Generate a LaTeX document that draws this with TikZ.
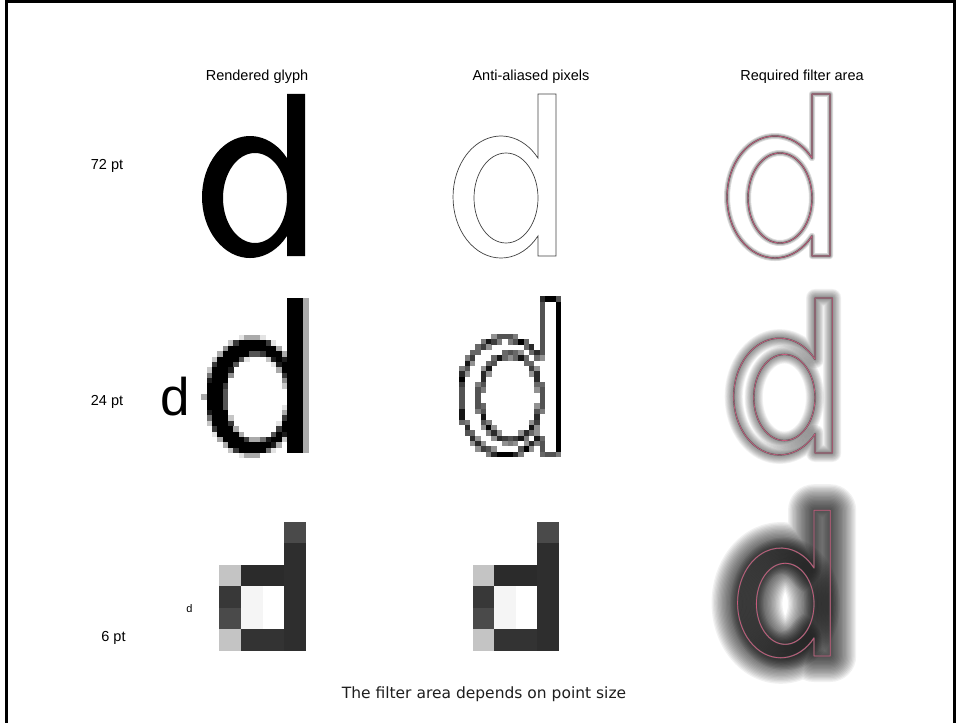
\documentclass[tikz,border=0pt]{standalone}
\usepackage{fontspec}
\setmainfont{Liberation Sans}
\newfontfamily\capfont{DejaVu Sans}
\usetikzlibrary{positioning}
\definecolor{filterpink}{HTML}{C85A7C}
\definecolor{captionink}{HTML}{1E1E1E}
\newcommand{\dOuter}{(0,-162) -- (18,-162) -- (18,0) -- (0,0) -- (0,-20.1)
  arc[start angle=39.6, end angle=320.4, x radius=48, y radius=61] -- cycle}
\newcommand{\dInner}{(-32,-58) ellipse[x radius=32, y radius=45]}
\newcommand{\filterhalo}[3]{%
  \foreach \k in {1,...,#2}{
    \pgfmathsetmacro\lw{2*#1*\k/#2}
    \draw[haze, line width=\lw pt, opacity=#3] \dOuter;
    \draw[haze, line width=\lw pt, opacity=#3] \dInner;
  }}
\newcommand{\sixptpixels}[1]{%
  \foreach \c/\r/\v in {3/0/71, 3/1/82, 0/2/23, 1/2/83, 2/2/83, 3/2/82,
      0/3/78, 1/3/4, 3/3/82, 0/4/71, 1/4/4, 3/4/82,
      0/5/23, 1/5/80, 2/5/80, 3/5/82}
    \fill[black!\v] ({#1+\c*21.5},{521.7+\r*21.5}) rectangle ++(21.7,21.7);}
\tikzset{
  declare function={
    inD(\x,\y)=max((\x>=0)*(\x<=18)*(\y>=-162)*(\y<=0),
      (veclen((\x+37)/48,(\y+59)/61)<=1)*(veclen((\x+32)/32,(\y+58)/45)>1));
    covA(\x,\y)=inD(\x+0.93,\y+0.93)+inD(\x+2.8,\y+0.93)+inD(\x+4.67,\y+0.93)
      +inD(\x+0.93,\y+2.8)+inD(\x+2.8,\y+2.8)+inD(\x+4.67,\y+2.8)
      +inD(\x+0.93,\y+4.67)+inD(\x+2.8,\y+4.67)+inD(\x+4.67,\y+4.67);
    covB(\x,\y)=inD(\x-0.56,\y-0.56)+inD(\x+1.68,\y-0.56)+inD(\x+3.92,\y-0.56)+inD(\x+6.16,\y-0.56)
      +inD(\x-0.56,\y+1.68)+inD(\x+1.68,\y+1.68)+inD(\x+3.92,\y+1.68)+inD(\x+6.16,\y+1.68)
      +inD(\x-0.56,\y+3.92)+inD(\x+1.68,\y+3.92)+inD(\x+3.92,\y+3.92)+inD(\x+6.16,\y+3.92)
      +inD(\x-0.56,\y+6.16)+inD(\x+1.68,\y+6.16)+inD(\x+3.92,\y+6.16)+inD(\x+6.16,\y+6.16);
  },
  colhead/.style={font=\fontsize{14.5}{17}\selectfont, anchor=base, inner sep=0pt},
  rowlabel/.style={font=\fontsize{14.5}{17}\selectfont, anchor=base, inner sep=0pt},
  sample/.style={anchor=base, inner sep=0pt},
  caption/.style={font=\capfont\fontsize{15.5}{18}\selectfont, text=captionink,
    anchor=base, inner sep=0pt},
  haze/.style={draw=black, line join=round, line cap=round},
  rim/.style={draw=black!65, line width=1.4pt, line join=round},
  pinkrim/.style={draw=filterpink, line width=0.7pt, line join=round},
  outline/.style={draw=black!75, line width=0.7pt},
}

\begin{document}
\begin{tikzpicture}[x=1pt, y=-1pt]
\useasboundingbox (0,0) rectangle (957,722);
\draw[line width=3pt] (6,724) -- (6,1.5) -- (954.5,1.5) -- (954.5,724);

\node[colhead] (hdrglyph) at (257,81) {Rendered glyph};
\node[colhead] (hdrpixels) at (531,81) {Anti-aliased pixels};
\node[colhead] (hdrfilter) at (802,81) {Required filter area};

\node[rowlabel] (row72) at (107,170) {72 pt};
\node[rowlabel] (row24) at (107,405) {24 pt};
\node[rowlabel] (row6) at (113.5,641) {6 pt};
\node[sample, font=\fontsize{53}{53}\selectfont] (small24) at (175.5,415) {d};
\node[sample, font=\fontsize{11}{11}\selectfont] (small6) at (189.5,612) {d};

% 72 pt
\begin{scope}[shift={(287,256)}]
  \fill[black, even odd rule] \dOuter \dInner;
\end{scope}
\begin{scope}[shift={(538,256)}]
  \draw[outline] \dOuter \dInner;
\end{scope}
\begin{scope}[shift={(812,256)}]
  \filterhalo{3}{3}{0.15}
  \draw[rim] \dOuter \dInner;
  \draw[pinkrim] \dOuter \dInner;
\end{scope}

% 24 pt
\begin{scope}[shift={(287,453)}, scale=0.957]
  \foreach \i in {-16,...,3}
    \foreach \j in {-29,...,0}{
      \pgfmathsetmacro\cv{covA(\i*5.6,\j*5.6)}
      \ifdim\cv pt>0pt
        \pgfmathsetmacro\pc{\cv*100/9}
        \fill[black!\pc] ({\i*5.6},{\j*5.6}) rectangle ++(5.7,5.7);
      \fi
    }
\end{scope}
\begin{scope}[shift={(541,453)}, scale=0.957]
  \foreach \i in {-15,...,3}
    \foreach \j in {-29,...,0}{
      \pgfmathsetmacro\cv{covB((\i-0.25)*5.6,(\j-0.25)*5.6)}
      \pgfmathsetmacro\pc{(\cv>0)*(\cv<16)*(35+65*(1-abs(\cv/8-1)))}
      \ifdim\pc pt>3pt
        \fill[black!\pc] ({(\i-0.25)*5.6},{(\j-0.25)*5.6}) rectangle ++(5.7,5.7);
      \fi
    }
\end{scope}
\begin{scope}[shift={(815,453)}, scale=0.957]
  \filterhalo{9}{10}{0.055}
  \draw[rim] \dOuter \dInner;
  \draw[pinkrim] \dOuter \dInner;
\end{scope}

% 6 pt
\sixptpixels{219.3}
\sixptpixels{472.7}
\begin{scope}[shift={(814,656)}, scale=0.9]
  \filterhalo{26}{20}{0.055}
  \draw[rim] \dOuter \dInner;
  \draw[pinkrim] \dOuter \dInner;
\end{scope}

\node[caption] (caption) at (484,698) {The filter area depends on point size};
\end{tikzpicture}
\end{document}
